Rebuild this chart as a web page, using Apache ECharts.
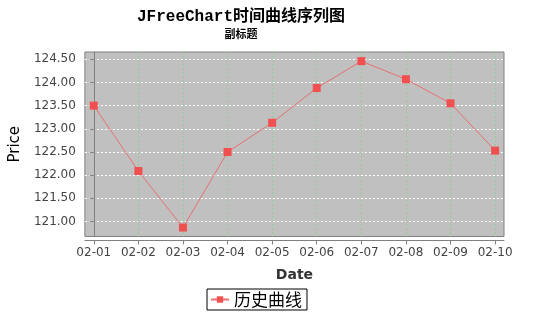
<!DOCTYPE html>
<html><head><meta charset="utf-8">
<script src="https://cdn.jsdelivr.net/npm/echarts@6/dist/echarts.min.js"></script>
<style>html,body{margin:0;padding:0;background:#fff}#c{width:557px;height:327px}</style>
</head><body><div id="c"></div>
<script>
const titleText = 'JFreeChart时间曲线序列图';
const subtitleText = '副标题';
const categories = ['02-01','02-02','02-03','02-04','02-05','02-06','02-07','02-08','02-09','02-10'];
const prices = [123.50, 122.09, 120.87, 122.50, 123.13, 123.88, 124.46, 124.07, 123.55, 122.53];
const yTicks = [121.0, 121.5, 122.0, 122.5, 123.0, 123.5, 124.0, 124.5];
const seriesName = '历史曲线';

const xIdx = categories.map((c, i) => i);
const chart = echarts.init(document.getElementById('c'), null, {renderer: 'canvas'});
chart.setOption({
  animation: false,
  graphic: [
    {type: 'text', x: 241, y: 9, style: {text: titleText, align: 'center', fontFamily: 'Liberation Mono, Noto Sans CJK SC', fontWeight: 'bold', fontSize: 16, fill: '#000'}},
    {type: 'text', x: 241, y: 28, style: {text: subtitleText, align: 'center', fontFamily: 'Noto Sans CJK SC', fontWeight: 'bold', fontSize: 11, fill: '#000'}}
  ],
  grid: {left: 81.5, right: 53, top: 52, bottom: 90.5, show: true, backgroundColor: '#c0c0c0', borderColor: '#808080', borderWidth: 1},
  legend: {
    top: 289, left: 207, data: [seriesName],
    borderColor: '#000', borderWidth: 1, padding: [2, 5, 2, 3],
    itemWidth: 18, itemHeight: 8, itemGap: 4,
    textStyle: {fontFamily: 'Noto Sans CJK SC', fontSize: 17, color: '#000'}
  },
  xAxis: {
    type: 'value', min: -0.2, max: 9.2, offset: 4,
    name: 'Date', nameLocation: 'middle', nameGap: 28,
    nameTextStyle: {fontFamily: 'DejaVu Sans', fontWeight: 'bold', fontSize: 14, color: '#333'},
    axisLine: {show: true, lineStyle: {color: '#808080'}},
    axisTick: {show: true, length: 4, lineStyle: {color: '#808080'}, customValues: xIdx},
    axisLabel: {customValues: xIdx, formatter: v => categories[Math.round(v)], fontFamily: 'DejaVu Sans', fontSize: 12, color: '#444', margin: 6},
    splitLine: {show: true, lineStyle: {color: '#8fcf8f', type: [2, 2], width: 1}}
  },
  yAxis: {
    type: 'value', min: 120.677, max: 124.657, offset: 4,
    name: 'Price', nameLocation: 'middle', nameGap: 54,
    nameTextStyle: {fontFamily: 'DejaVu Sans', fontSize: 15, color: '#000'},
    axisLine: {show: true, lineStyle: {color: '#808080'}},
    axisTick: {show: true, length: 4, lineStyle: {color: '#808080'}, customValues: yTicks},
    axisLabel: {customValues: yTicks, formatter: v => v.toFixed(2), fontFamily: 'DejaVu Sans', fontSize: 12, color: '#444', margin: 5},
    splitLine: {show: true, lineStyle: {color: '#ffffff', type: [2, 2], width: 1}}
  },
  series: [{
    name: seriesName, type: 'line',
    data: prices.map((p, i) => [xIdx[i], p]),
    symbol: 'rect', symbolSize: 8, showAllSymbol: true,
    lineStyle: {color: '#e87070', width: 1},
    itemStyle: {color: '#f05050'}
  }]
});
</script></body></html>
